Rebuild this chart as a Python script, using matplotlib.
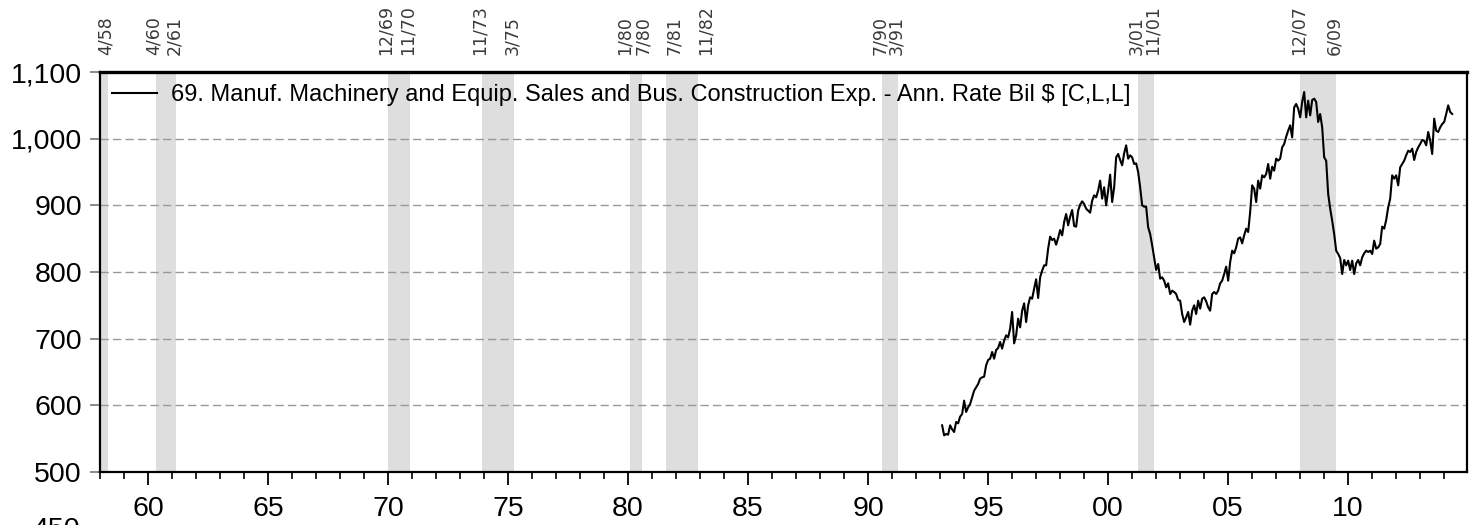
import matplotlib
matplotlib.use("Agg")
import matplotlib.pyplot as plt
from matplotlib.ticker import MultipleLocator, FuncFormatter

plt.rcParams['font.family'] = ['Liberation Sans', 'DejaVu Sans']

# recession peaks / troughs (month/yy) shown as grey bands
peaks = ['8/57', '4/60', '12/69', '11/73', '1/80', '7/81', '7/90', '3/01', '12/07']
troughs = ['4/58', '2/61', '11/70', '3/75', '7/80', '11/82', '3/91', '11/01', '6/09']

series_label = "69. Manuf. Machinery and Equip. Sales and Bus. Construction Exp. - Ann. Rate Bil $ [C,L,L]"

# monthly values, Jan 1993 .. mid 2003
values_1993 = [570, 555, 557, 556, 570, 564, 560, 575, 573, 583, 587, 607,
               590, 597, 602, 612, 622, 627, 632, 640, 642, 643, 660, 668,
               670, 680, 670, 683, 686, 695, 685, 697, 705, 702, 715, 740,
               693, 705, 730, 717, 742, 753, 725, 750, 762, 760, 775, 789,
               761, 792, 802, 810, 810, 835, 853, 848, 850, 841, 851, 863,
               855, 875, 887, 870, 883, 893, 869, 868, 892, 901, 906, 902,
               895, 892, 889, 907, 915, 912, 922, 937, 910, 927, 900, 922,
               946, 905, 927, 972, 977, 968, 960, 978, 990, 970, 975, 972,
               962, 963, 950, 927, 900, 898, 898, 867, 857, 840, 822, 803,
               812, 790, 792, 787, 777, 783, 767, 772, 770, 767, 758, 757,
               737, 725, 732, 740, 721, 742]
# mid 2003 .. early 2014
values_2003 = [750, 737, 757, 745, 760, 762, 756, 747, 742, 767, 770, 767,
               772, 783, 787, 797, 808, 787, 815, 832, 828, 837, 850, 852,
               843, 855, 865, 860, 890, 930, 925, 905, 937, 925, 945, 942,
               947, 962, 940, 958, 952, 970, 967, 970, 987, 992, 1003, 1012,
               1020, 1002, 1047, 1052, 1045, 1032, 1055, 1070, 1032, 1057, 1035, 1058,
               1060, 1055, 1025, 1037, 1017, 972, 967, 917, 895, 877, 857, 832,
               827, 821, 797, 818, 810, 817, 803, 817, 797, 813, 818, 810,
               822, 828, 832, 830, 832, 827, 847, 835, 837, 842, 868, 865,
               878, 897, 910, 945, 940, 945, 930, 957, 962, 967, 975, 982,
               980, 985, 968, 980, 987, 992, 998, 997, 990, 1010, 997, 977,
               1030, 1012, 1010, 1017, 1022, 1025, 1037, 1050, 1040, 1037]

values = values_1993 + values_2003
dates = [1993 + (i + 1) / 12 for i in range(len(values))]


def to_year(s):
    m, yy = s.split('/')
    yy = int(yy)
    year = 2000 + yy if yy < 50 else 1900 + yy
    return year + int(m) / 12


# small sideways shifts (pixels) so crowded date labels don't collide
label_nudge = {'1/80': -3, '7/80': 3, '7/81': 10, '11/82': 10}

fig = plt.figure(figsize=(14.78, 5.25), dpi=100)
ax = fig.add_axes([100 / 1478, 1 - 472 / 525, 1367 / 1478, 400 / 525])
x0, x1 = 1958, 2014.95
ax.set_xlim(x0, x1)
ax.set_ylim(500, 1100)

for p, t in zip(peaks, troughs):
    ax.axvspan(to_year(p), to_year(t), color='#dedede', lw=0, zorder=0)
    for lab in (p, t):
        d = to_year(lab)
        if d < x0:
            continue
        dx = (-2 + label_nudge.get(lab, 0)) * 0.72
        ax.annotate(lab, xy=(d, 1), xycoords=('data', 'axes fraction'),
                    xytext=(dx, 12), textcoords='offset points', rotation=90,
                    ha='center', va='bottom', fontsize=12.5,
                    family=['DejaVu Sans'], color='#3a3a3a')

ax.grid(axis='y', color='#999999', lw=1.0, linestyle=(0, (6, 3)), zorder=1)
ax.plot(dates, values, color='black', lw=1.5, label=series_label, zorder=3)

ax.legend(loc='upper left', frameon=False, fontsize=17, handlelength=1.9,
          handletextpad=0.6, borderaxespad=0.2, borderpad=0.3)

for side in ['left', 'right', 'bottom']:
    ax.spines[side].set_linewidth(1.6)
ax.spines['top'].set_linewidth(2.4)

ax.yaxis.set_major_locator(MultipleLocator(100))
ax.yaxis.set_major_formatter(FuncFormatter(lambda v, _: f'{int(v):,}'))
ax.xaxis.set_major_locator(MultipleLocator(5))
ax.xaxis.set_minor_locator(MultipleLocator(1))
ax.xaxis.set_major_formatter(FuncFormatter(lambda v, _: f'{int(round(v)) % 100:02d}'))

ax.tick_params(axis='y', direction='out', length=7, width=1.2, color='#777777',
               labelsize=20.5, pad=6)
ax.tick_params(axis='x', which='major', direction='out', length=9, width=1.3,
               labelsize=20.5, pad=8)
ax.tick_params(axis='x', which='minor', direction='out', length=5, width=1.2)

# cut-off label from the panel below
fig.text(80 / 1478, 1 - 517 / 525, '450', ha='right', va='top', fontsize=20.5)

fig.savefig('out.png', dpi=100)
